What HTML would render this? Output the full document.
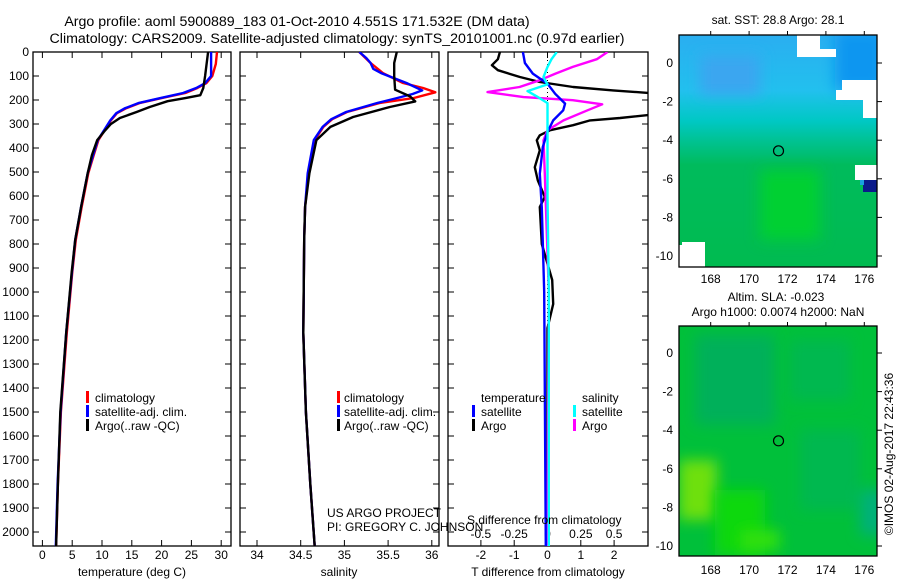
<!DOCTYPE html>
<html><head><meta charset="utf-8"><style>
html,body{margin:0;padding:0;background:#fff;}
svg{display:block;font-family:"Liberation Sans",Arial,sans-serif;}
</style></head><body>
<svg id="fig" width="900" height="580" viewBox="0 0 900 580">
<defs>
<clipPath id="c1"><rect x="33" y="52" width="198" height="494"/></clipPath>
<clipPath id="c2"><rect x="240" y="52" width="199" height="494"/></clipPath>
<clipPath id="c3"><rect x="448" y="52" width="200" height="494"/></clipPath>
<clipPath id="cm1"><rect x="679" y="35" width="198" height="232"/></clipPath>
<clipPath id="cm2"><rect x="679" y="326" width="198" height="230"/></clipPath>
<filter id="bl" x="-100%" y="-100%" width="300%" height="300%"><feGaussianBlur stdDeviation="7"/></filter>
<linearGradient id="g1" gradientUnits="userSpaceOnUse" x1="0" y1="35" x2="0" y2="267">
<stop offset="0" stop-color="#2aaef0"/><stop offset="0.24" stop-color="#22c0ee"/><stop offset="0.37" stop-color="#00c8c4"/><stop offset="0.46" stop-color="#00c290"/><stop offset="0.56" stop-color="#00bb5c"/><stop offset="1" stop-color="#00bb50"/>
</linearGradient>
</defs>
<g font-size="14.2" text-anchor="middle" fill="#000">
<text x="297" y="26">Argo profile: aoml 5900889_183 01-Oct-2010 4.551S 171.532E (DM data)</text>
<text x="337" y="43">Climatology: CARS2009. Satellite-adjusted climatology: synTS_20101001.nc (0.97d earlier)</text>
</g>
<g id="axes"></g>
<g id="lines"></g>
<g id="maps"></g>
<g font-size="12">
<rect x="86" y="391" width="3" height="12" fill="#f00"/>
<text x="95" y="402">climatology</text>
<rect x="86" y="405" width="3" height="12" fill="#00f"/>
<text x="95" y="416">satellite-adj. clim.</text>
<rect x="86" y="419" width="3" height="12" fill="#000"/>
<text x="95" y="430">Argo(..raw -QC)</text>
</g>
<g font-size="12">
<rect x="337" y="391" width="3" height="12" fill="#f00"/>
<text x="344" y="402">climatology</text>
<rect x="337" y="405" width="3" height="12" fill="#00f"/>
<text x="344" y="416">satellite-adj. clim.</text>
<rect x="337" y="419" width="3" height="12" fill="#000"/>
<text x="344" y="430">Argo(..raw -QC)</text>
</g>
<g font-size="12">
<text x="481" y="402">temperature</text>
<text x="582" y="402">salinity</text>
<rect x="472" y="405" width="3" height="12" fill="#00f"/>
<text x="481" y="416">satellite</text>
<rect x="472" y="419" width="3" height="12" fill="#000"/>
<text x="481" y="430">Argo</text>
<rect x="573" y="405" width="3" height="12" fill="#0ff"/>
<text x="582" y="416">satellite</text>
<rect x="573" y="419" width="3" height="12" fill="#f0f"/>
<text x="582" y="430">Argo</text>
</g>
<g font-size="12" fill="#000">
<text x="327" y="517">US ARGO PROJECT</text>
<text x="327" y="531">PI: GREGORY C. JOHNSON</text>
<text x="467" y="524">S difference from climatology</text>
<text x="132" y="576" text-anchor="middle">temperature (deg C)</text>
<text x="339" y="576" text-anchor="middle">salinity</text>
<text x="548" y="576" text-anchor="middle">T difference from climatology</text>
<text x="778" y="24" text-anchor="middle">sat. SST: 28.8 Argo: 28.1</text>
<text x="776" y="301" text-anchor="middle">Altim. SLA: -0.023</text>
<text x="778" y="316" text-anchor="middle">Argo h1000: 0.0074 h2000: NaN</text>
<text transform="translate(893,454) rotate(-90)" text-anchor="middle">©IMOS 02-Aug-2017 22:43:36</text>
</g>
</svg>
<script>
// ---- data ----
const depthTicks = [0,100,200,300,400,500,600,700,800,900,1000,1100,1200,1300,1400,1500,1600,1700,1800,1900,2000];
const tempTicks = [0,5,10,15,20,25,30];
const salTicks = [34,34.5,35,35.5,36];
const tdiffTicks = [-2,-1,0,1,2];
const sdiffTicks = [-0.5,-0.25,0,0.25,0.5];
const sdiffTickLabels = ["-0.5","-0.25","0","0.25","0.5"];
const latTicks = [0,-2,-4,-6,-8,-10];
const lonTicks = [168,170,172,174,176];

const tempClimDepth = [0,50,100,130,150,171,192,212,235,255,285,312,367,430,505,645,783,921,1170,1500,1800,2060];
const tempClim      = [29.3,29.1,28.5,27.5,26,24,20,16.4,14,12.5,11.5,10.8,9.4,8.6,7.7,6.6,5.6,5.0,4.1,3.1,2.6,2.3];
const tempSatDepth  = [0,100,130,150,171,192,212,235,255,285,312,367,430,505,645,783,921,1170,1500,1800,2060];
const tempSat       = [28.3,28.3,27.3,25.8,23.6,19.8,16.2,13.8,12.4,11.4,10.7,9.3,8.5,7.6,6.5,5.5,4.95,4.0,3.05,2.55,2.25];
const tempArgoDepth = [0,60,100,150,180,192,205,229,250,275,300,330,367,430,505,645,783,921,1170,1500,1800,2060];
const tempArgo      = [27.8,27.5,27.3,27,26.5,24,21,18,15.8,13,11.5,10.4,9.2,8.3,7.6,6.5,5.5,4.9,4.0,3.0,2.6,2.3];

const salClimDepth = [0,46,88,129,150,168,192,212,250,280,312,367,505,645,783,1170,1500,1800,2060];
const salClim      = [35.17,35.3,35.44,35.67,35.9,36.04,35.79,35.41,35.03,34.86,34.76,34.66,34.59,34.55,34.54,34.53,34.56,34.61,34.66];
const salSatDepth  = [0,25,46,70,88,129,160,175,192,212,250,280,312,367,505,645,783,1170,1500,1800,2060];
const salSat       = [35.17,35.25,35.3,35.33,35.42,35.71,35.89,35.78,35.6,35.38,35.02,34.85,34.75,34.65,34.58,34.55,34.54,34.53,34.56,34.61,34.66];
const salArgoDepth = [0,46,100,157,185,206,229,271,312,367,505,645,783,1170,1500,1800,2060];
const salArgo      = [35.6,35.57,35.57,35.58,35.75,35.81,35.52,35.1,34.84,34.68,34.6,34.55,34.54,34.53,34.56,34.61,34.66];

const tdSatDepth  = [0,46,90,132,174,215,243,285,333,396,507,650,1000,2060];
const tdSat       = [-0.74,-0.68,-0.44,0,0.23,0.53,0.47,0.17,0,-0.14,-0.23,-0.17,-0.1,-0.05];
const tdArgoDepth = [0,30,55,76,104,125,146,160,174,200,240,257,275,285,305,326,347,368,410,480,535,604,646,800,950,1050,1150,1400,2060];
const tdArgo      = [-1.43,-1.49,-1.67,-1.49,-0.83,-0.23,0.77,1.97,3.4,5,5,3.4,2.18,1.28,0.77,0.08,-0.23,-0.32,-0.23,-0.38,-0.29,-0.08,-0.23,-0.17,0.14,0.17,0.0,0.0,0.0];
const sdSatDepth  = [0,30,62,104,135,163,185,213,300,600,1000,2060];
const sdSat       = [0.07,0.03,0,-0.03,0,-0.15,-0.08,0,0,0.0,0.01,0.01];
const sdArgoDepth = [0,30,62,90,118,146,167,188,201,218,243,285,326,368,507,1000,2060];
const sdArgo      = [0.45,0.37,0.19,0.06,-0.06,-0.21,-0.45,-0.18,0.19,0.41,0.3,0.12,0,-0.03,-0.02,0.01,0.0];

const floatLon = [171.532];
const floatLat = [-4.551];

// ---- scales ----
const yD = d => 52 + d*0.24;
const xT = t => 42.4 + t*5.96;
const xS = s => 257 + (s-34)*87.4;
const xTD = t => 547.5 + t*33.3;
const xSD = s => 547.5 + s*133.3;
const xLon = l => 710.7 + (l-168)*19.2;
const yLat1 = l => 63 - l*19.3;
const yLat2 = l => 353 - l*19.3;

const NS = "http://www.w3.org/2000/svg";
function mk(tag, parent){ const e=document.createElementNS(NS,tag); parent.appendChild(e); return e; }
const axes = document.getElementById('axes');
const lines = document.getElementById('lines');
const maps = document.getElementById('maps');

const panels = [[33,231],[240,439],[448,648]];
panels.forEach((p,i)=>{
  const r = mk('rect',axes);
  r.setAttribute('x',p[0]); r.setAttribute('y',52); r.setAttribute('width',p[1]-p[0]); r.setAttribute('height',494);
  r.setAttribute('fill','none'); r.setAttribute('stroke','#000'); r.setAttribute('stroke-width','1.3');
  
  
  depthTicks.forEach(d=>{
    const y=yD(d);
    [[p[0],p[0]+6],[p[1],p[1]-6]].forEach(s=>{
      const l=mk('line',axes);
      l.setAttribute('x1',s[0]); l.setAttribute('x2',s[1]); l.setAttribute('y1',y); l.setAttribute('y2',y); l.setAttribute('stroke','#000');
      
      
    });
  });
});
depthTicks.forEach(d=>{
  const t=mk('text',axes);
  t.setAttribute('x',29); t.setAttribute('y',yD(d)+4); t.setAttribute('text-anchor','end'); t.setAttribute('font-size','12');
  t.textContent=d;
  
  
});
function xticks(vals, labels, fx, yLabel, top, bottom, name){
  vals.forEach((v,i)=>{
    const x=fx(v);
    if(bottom){ const l=mk('line',axes); l.setAttribute('x1',x); l.setAttribute('x2',x); l.setAttribute('y1',546); l.setAttribute('y2',540); l.setAttribute('stroke','#000');
      
       }
    if(top){ const l=mk('line',axes); l.setAttribute('x1',x); l.setAttribute('x2',x); l.setAttribute('y1',52); l.setAttribute('y2',58); l.setAttribute('stroke','#000');
      
       }
    const t=mk('text',axes); t.setAttribute('x',x); t.setAttribute('y',yLabel); t.setAttribute('text-anchor','middle'); t.setAttribute('font-size','12');
    t.textContent=labels[i];
    
    
  });
}
xticks(tempTicks,tempTicks,xT,559,true,true,'temperature');
xticks(salTicks,salTicks,xS,559,true,true,'salinity');
xticks(tdiffTicks,tdiffTicks,xTD,559,false,true,'t-difference');
xticks(sdiffTicks,sdiffTickLabels,xSD,538,true,false,'s-difference');

const z=mk('line',lines);
z.setAttribute('x1',xTD(0)); z.setAttribute('x2',xTD(0)); z.setAttribute('y1',52); z.setAttribute('y2',546);
z.setAttribute('stroke','#000'); z.setAttribute('stroke-dasharray','1,3');



function series(depths, vals, fx, color, clip, name){
  const pts = depths.map((d,i)=>fx(vals[i]).toFixed(1)+','+yD(d).toFixed(1)).join(' ');
  const p=mk('polyline',lines);
  p.setAttribute('points',pts); p.setAttribute('fill','none'); p.setAttribute('stroke',color);
  p.setAttribute('stroke-width','2.4'); p.setAttribute('stroke-linejoin','round'); p.setAttribute('clip-path','url(#'+clip+')');
  
  
}
series(tempClimDepth,tempClim,xT,'#f00','c1','temperature-climatology-line');
series(tempSatDepth,tempSat,xT,'#00f','c1','temperature-satellite-line');
series(tempArgoDepth,tempArgo,xT,'#000','c1','temperature-argo-line');
series(salClimDepth,salClim,xS,'#f00','c2','salinity-climatology-line');
series(salSatDepth,salSat,xS,'#00f','c2','salinity-satellite-line');
series(salArgoDepth,salArgo,xS,'#000','c2','salinity-argo-line');
series(tdArgoDepth,tdArgo,xTD,'#000','c3','t-difference-argo-line');
series(sdArgoDepth,sdArgo,xSD,'#f0f','c3','s-difference-argo-line');
series(tdSatDepth,tdSat,xTD,'#00f','c3','t-difference-satellite-line');
series(sdSatDepth,sdSat,xSD,'#0ff','c3','s-difference-satellite-line');

function rect(parent,x,y,w,h,fill,name,extra){
  const r=mk('rect',parent); r.setAttribute('x',x); r.setAttribute('y',y); r.setAttribute('width',w); r.setAttribute('height',h); r.setAttribute('fill',fill);
  if(extra) r.setAttribute('filter',extra);
  
  
  return r;
}
const m1=mk('g',maps); m1.setAttribute('clip-path','url(#cm1)');


rect(m1,679,35,198,232,'url(#g1)','sst-field');
rect(m1,835,30,50,60,'#0a96f0','sst-warm-patch','url(#bl)');
rect(m1,700,55,60,40,'#3aa6f0','sst-blue-patch','url(#bl)');
rect(m1,760,170,60,70,'#00d030','sst-green-patch','url(#bl)');
rect(m1,797,35,23,22,'#fff','sst-mask');
rect(m1,820,49,16,8,'#fff','sst-mask');
rect(m1,842,80,35,20,'#fff','sst-mask');
rect(m1,836,90,8,10,'#fff','sst-mask');
rect(m1,863,100,14,18,'#fff','sst-mask');
rect(m1,855,165,22,15,'#fff','sst-mask');
rect(m1,863,180,14,12,'#0a1a8a','sst-cold-patch');
rect(m1,860,180,4,5,'#1aa0e0','sst-cold-edge');
rect(m1,682,242,23,25,'#fff','sst-mask');
rect(m1,679,245,4,22,'#fff','sst-mask');

const m2=mk('g',maps); m2.setAttribute('clip-path','url(#cm2)');


rect(m2,679,326,198,230,'#00c03a','sla-field');
rect(m2,695,335,80,90,'#00b05a','sla-low-patch','url(#bl)');
rect(m2,790,340,60,60,'#00b850','sla-low-patch','url(#bl)');
rect(m2,800,430,60,80,'#00b850','sla-low-patch','url(#bl)');
rect(m2,860,490,25,45,'#00b07a','sla-low-patch','url(#bl)');
rect(m2,679,460,38,60,'#6ee010','sla-high-patch','url(#bl)');
rect(m2,715,490,50,66,'#10d810','sla-high-patch','url(#bl)');
rect(m2,740,530,40,20,'#30e010','sla-high-patch','url(#bl)');

[[1,35,267,yLat1,279,'sst'],[2,326,556,yLat2,570,'sla']].forEach(m=>{
  const r=mk('rect',maps); r.setAttribute('x',679); r.setAttribute('y',m[1]); r.setAttribute('width',198); r.setAttribute('height',m[2]-m[1]);
  r.setAttribute('fill','none'); r.setAttribute('stroke','#000'); r.setAttribute('stroke-width','1.3');
  
  
  latTicks.forEach(l=>{
    const y=m[3](l);
    const t=mk('text',maps); t.setAttribute('x',673); t.setAttribute('y',y+4); t.setAttribute('text-anchor','end'); t.setAttribute('font-size','12');
    t.textContent=l;
    
    
    const k=mk('line',maps); k.setAttribute('x1',877); k.setAttribute('x2',882); k.setAttribute('y1',y); k.setAttribute('y2',y); k.setAttribute('stroke','#000');
    
    
  });
  lonTicks.forEach(l=>{
    const x=xLon(l);
    const t=mk('text',maps); t.setAttribute('x',x); t.setAttribute('y',m[4]+4); t.setAttribute('text-anchor','middle'); t.setAttribute('font-size','12');
    t.textContent=l;
    
    
    const k=mk('line',maps); k.setAttribute('x1',x); k.setAttribute('x2',x); k.setAttribute('y1',m[1]); k.setAttribute('y2',m[1]-4); k.setAttribute('stroke','#000');
    
    
  });
  const c=mk('circle',maps); c.setAttribute('cx',xLon(floatLon[0])); c.setAttribute('cy',m[3](floatLat[0])); c.setAttribute('r',5);
  c.setAttribute('fill','none'); c.setAttribute('stroke','#000'); c.setAttribute('stroke-width','1.2');
  
  
});
</script>
</body></html>
